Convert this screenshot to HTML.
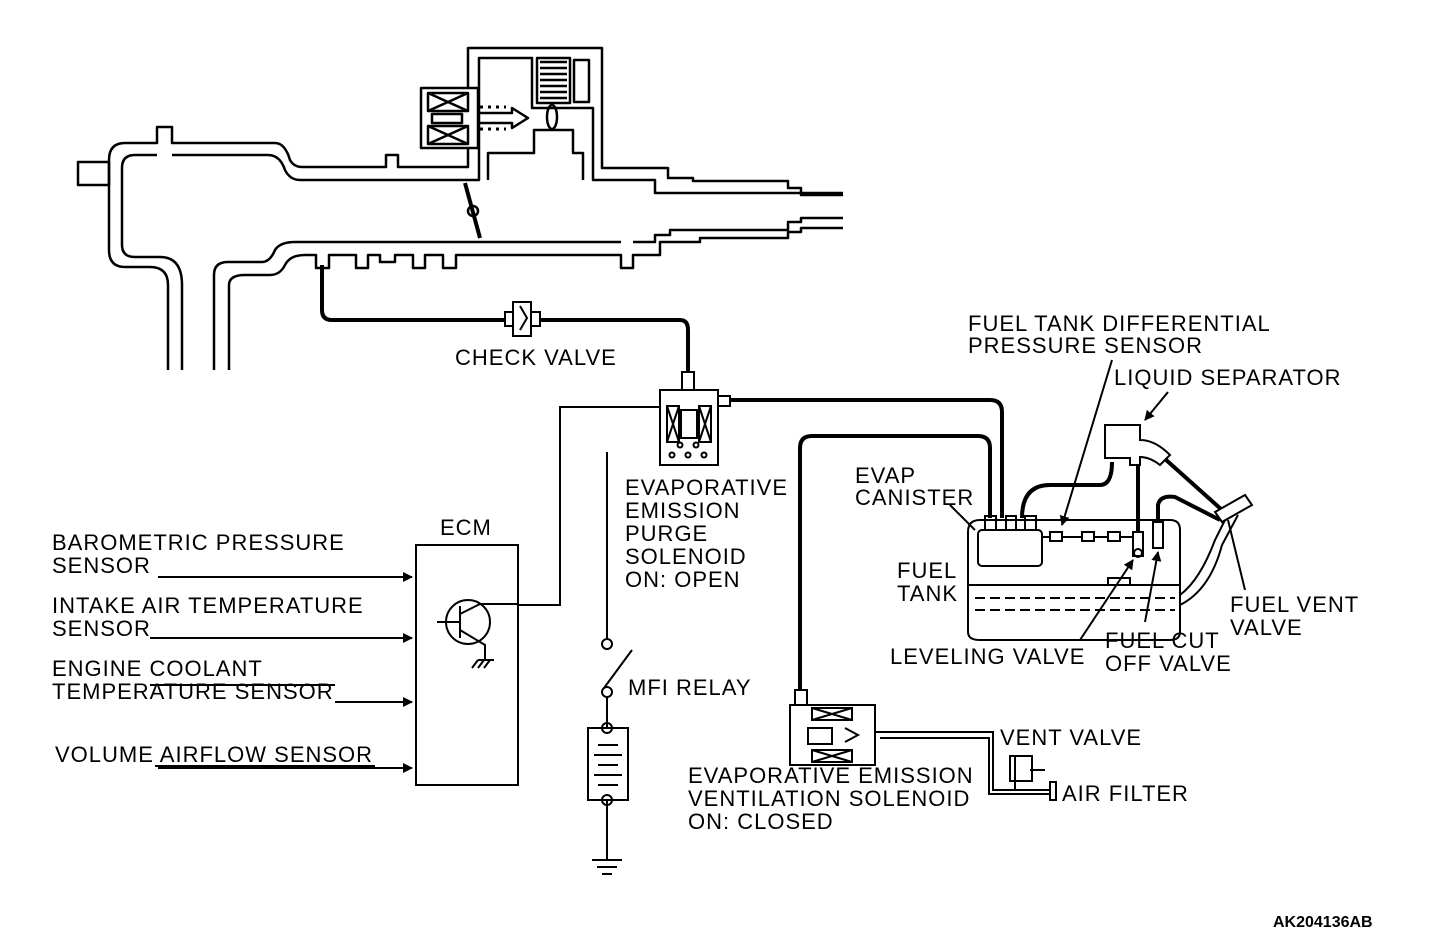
<!DOCTYPE html>
<html><head><meta charset="utf-8"><style>
html,body{margin:0;padding:0;background:#fff}
svg{display:block}
text{font-family:"Liberation Sans",Arial,sans-serif;font-size:22px;letter-spacing:1px;fill:#000}
</style></head><body>
<svg width="1440" height="946" viewBox="0 0 1440 946" xmlns="http://www.w3.org/2000/svg">
<defs><marker id="ar" markerWidth="10" markerHeight="10" refX="9" refY="5" orient="auto" markerUnits="userSpaceOnUse"><path d="M0,0 L10,5 L0,10 z" fill="#000"/></marker></defs>
<g fill="none" stroke="#000" stroke-width="2.5" stroke-linejoin="round">
<!-- intake -->
<rect x="78" y="162" width="31" height="23"/>
<path d="M168,370 V285 Q168,267 150,267 H125 Q109,267 109,250 V160 Q109,143 125,143 H157 V127 H172 V143 H275 Q285,143 290,160 Q294,167 302,167 H386 V155 H398 V167 H468 V48 H602 V168 H668 V178 H693 V181 H788 V188 H801 V195 H843"/>
<path d="M182,370 V285 Q182,257 160,257 H135 Q122,257 122,245 V168 Q122,155 135,155 H157 M172,155 H268 Q280,155 285,170 Q290,180 300,180 H479 V58 H532 V108 H593 V180 H655 V193 H843"/>
<path d="M488,180 V153 H534 V130 H573 V153 H583 V180"/>
<path d="M214,370 V275 Q214,262 228,262 H262 Q270,262 275,250 Q280,242 295,242 H621 M633,242 H655 V235 H670 V230 H788 V222 H801 V218 H843"/>
<path d="M229,370 V285 Q229,275 245,275 H270 Q280,275 285,265 Q290,255 305,255 H316 V268 H329 V255 H356 V268 H368 V255 H380 V262 H395 V255 H413 V268 H425 V255 H443 V268 H456 V255 H621 V268 H633 V255 H660 V242 H700 V238 H788 V232 H801 V228 H843"/>
<!-- purge valve internals -->
<rect x="537" y="58" width="33" height="45"/>
<path d="M540,62 h27 M540,68 h27 M540,74 h27 M540,80 h27 M540,86 h27 M540,92 h27 M540,98 h27"/>
<rect x="574" y="60" width="15" height="42"/>
<ellipse cx="552" cy="117" rx="5" ry="12"/>
<rect x="421" y="88" width="57" height="60" fill="#fff"/>
<rect x="428" y="93" width="40" height="18"/><path d="M428,93 L468,111 M468,93 L428,111"/>
<rect x="428" y="126" width="40" height="18"/><path d="M428,126 L468,144 M468,126 L428,144"/>
<rect x="432" y="114" width="30" height="9"/>
<path d="M478,113 H512 V108 L528,118 L512,128 V123 H478"/>
<path d="M480,107 h26 M480,129 h26" stroke-dasharray="3,5" stroke-width="3"/>
<!-- throttle -->
<path d="M465,183 L480,238" stroke-width="4"/><circle cx="473" cy="211" r="5"/>
</g>
<g fill="none" stroke="#000" stroke-width="4" stroke-linejoin="round">
<path d="M322,265 V310 Q322,320 332,320 H505"/>
<path d="M540,320 H680 Q688,320 688,330 V372"/>
<path d="M730,400 H990 Q1002,400 1002,412 V518"/>
<path d="M800,690 V448 Q800,436 812,436 H978 Q990,436 990,448 V518"/>
<path d="M1022,518 Q1022,485 1050,485 H1100 Q1112,485 1112,462"/>
<path d="M1138,465 V536"/>
<path d="M1158,520 V505 Q1160,495 1175,497 L1220,520"/>
<path d="M1155,450 L1222,510"/>
</g>
<g fill="none" stroke="#000" stroke-width="2">
<!-- check valve -->
<rect x="505" y="312" width="35" height="14" fill="#fff"/><rect x="513" y="302" width="18" height="34" fill="#fff"/>
<path d="M520,306 L527,318 L520,330"/>
<!-- purge solenoid -->
<rect x="682" y="372" width="12" height="18"/>
<rect x="660" y="390" width="58" height="75" fill="#fff"/>
<rect x="667" y="406" width="12" height="36"/><path d="M667,406 L679,442 M679,406 L667,442"/>
<rect x="699" y="406" width="12" height="36"/><path d="M699,406 L711,442 M711,406 L699,442"/>
<rect x="681" y="410" width="16" height="28"/>
<rect x="718" y="396" width="12" height="10"/>
<circle cx="672" cy="455" r="2.5"/><circle cx="688" cy="455" r="2.5"/><circle cx="704" cy="455" r="2.5"/>
<circle cx="680" cy="445" r="2.5"/><circle cx="696" cy="445" r="2.5"/>
<!-- wires -->
<path d="M518,605 H560 V407 H660"/>
<path d="M607,452 V638"/>
<circle cx="607" cy="644" r="5"/><circle cx="607" cy="692" r="5"/>
<path d="M604,688 L632,650"/>
<path d="M607,697 V728 M607,800 V860"/>
<rect x="588" y="728" width="40" height="72"/>
<path d="M598,745 h20 M594,755 h28 M598,765 h20 M594,775 h28 M598,785 h20"/>
<circle cx="607" cy="728" r="5"/><circle cx="607" cy="800" r="5"/>
<path d="M592,860 h30 M597,867 h20 M602,874 h10"/>
<!-- ECM -->
<rect x="416" y="545" width="102" height="240"/>
<circle cx="468" cy="622" r="22"/>
<path d="M437,622 H460 M460,606 V638 M460,614 L480,604 L518,604 M460,630 L485,645 V660"/>
<path d="M478,660 h16 M478,660 l-6,8 M484,660 l-6,8 M490,660 l-6,8"/>
<path d="M158,577 H412" marker-end="url(#ar)"/>
<path d="M150,638 H412" marker-end="url(#ar)"/>
<path d="M335,702 H412" marker-end="url(#ar)"/>
<path d="M158,768 H412" marker-end="url(#ar)"/>
<path d="M150,685 H335 M155,766 H375"/>
<!-- tank -->
<path d="M968,532 Q968,520 980,520 H1170 Q1180,520 1180,530 V632 Q1180,640 1170,640 H980 Q968,640 968,632 Z"/>
<path d="M968,585 H1180"/>
<path d="M975,598 H1175 M975,610 H1175" stroke-dasharray="10,5"/>
<rect x="1108" y="578" width="22" height="7"/>
<rect x="978" y="530" width="64" height="36" rx="4" fill="#fff"/>
<path d="M985,530 V516 H996 V530 M1006,530 V516 H1016 V530 M1025,530 V516 H1036 V530"/>
<path d="M1042,537 H1140"/>
<rect x="1050" y="532" width="12" height="9" fill="#fff"/><rect x="1082" y="532" width="12" height="9" fill="#fff"/><rect x="1108" y="532" width="12" height="9" fill="#fff"/>
<rect x="1133" y="532" width="10" height="24" fill="#fff"/><circle cx="1138" cy="553" r="4"/>
<rect x="1153" y="522" width="10" height="26" fill="#fff"/>
<path d="M1180,595 Q1200,580 1215,540 L1230,510 M1180,605 Q1210,590 1222,545 L1238,515"/>
<path d="M1215,512 L1245,495 L1252,505 L1222,522 Z" fill="#fff"/>
<path d="M1105,425 H1140 V440 Q1155,440 1170,455 L1160,465 Q1150,457 1140,457 V465 H1130 V458 H1105 Z" fill="#fff"/>
<!-- leader lines -->
<path d="M1112,360 L1062,525" marker-end="url(#ar)"/>
<path d="M1168,392 L1145,420" marker-end="url(#ar)"/>
<path d="M950,505 L975,530"/>
<path d="M1080,640 L1133,560" marker-end="url(#ar)"/>
<path d="M1145,622 L1158,552" marker-end="url(#ar)"/>
<path d="M1245,590 L1228,520"/>
<!-- vent solenoid -->
<rect x="795" y="690" width="12" height="18"/>
<rect x="790" y="705" width="85" height="60" fill="#fff"/>
<rect x="812" y="708" width="40" height="12"/><path d="M812,708 L852,720 M852,708 L812,720"/>
<rect x="812" y="750" width="40" height="12"/><path d="M812,750 L852,762 M852,750 L812,762"/>
<rect x="808" y="728" width="24" height="16"/>
<path d="M845,728 L858,735 L845,742"/>
<path d="M875,732 H993 V790 H1050 M880,738 H989 V794 H1050"/>
<rect x="1010" y="756" width="22" height="25"/>
<path d="M1015,756 V790 M1030,770 H1045"/>
<rect x="1050" y="782" width="6" height="18"/>
</g>
<text x="455" y="365">CHECK VALVE</text>
<text x="968" y="331">FUEL TANK DIFFERENTIAL</text>
<text x="968" y="353">PRESSURE SENSOR</text>
<text x="1114" y="385">LIQUID SEPARATOR</text>
<text x="625" y="495">EVAPORATIVE</text>
<text x="625" y="518">EMISSION</text>
<text x="625" y="541">PURGE</text>
<text x="625" y="564">SOLENOID</text>
<text x="625" y="587">ON: OPEN</text>
<text x="855" y="483">EVAP</text>
<text x="855" y="505">CANISTER</text>
<text x="440" y="535">ECM</text>
<text x="52" y="550">BAROMETRIC PRESSURE</text>
<text x="52" y="573">SENSOR</text>
<text x="52" y="613">INTAKE AIR TEMPERATURE</text>
<text x="52" y="636">SENSOR</text>
<text x="52" y="676">ENGINE COOLANT</text>
<text x="52" y="699">TEMPERATURE SENSOR</text>
<text x="55" y="762">VOLUME AIRFLOW SENSOR</text>
<text x="897" y="578">FUEL</text>
<text x="897" y="601">TANK</text>
<text x="1230" y="612">FUEL VENT</text>
<text x="1230" y="635">VALVE</text>
<text x="890" y="664">LEVELING VALVE</text>
<text x="1105" y="648">FUEL CUT</text>
<text x="1105" y="671">OFF VALVE</text>
<text x="628" y="695">MFI RELAY</text>
<text x="1000" y="745">VENT VALVE</text>
<text x="1062" y="801">AIR FILTER</text>
<text x="688" y="783">EVAPORATIVE EMISSION</text>
<text x="688" y="806">VENTILATION SOLENOID</text>
<text x="688" y="829">ON: CLOSED</text>
<text x="1273" y="927" style="font-size:16px;font-weight:bold;letter-spacing:0">AK204136AB</text>
</svg>
</body></html>
